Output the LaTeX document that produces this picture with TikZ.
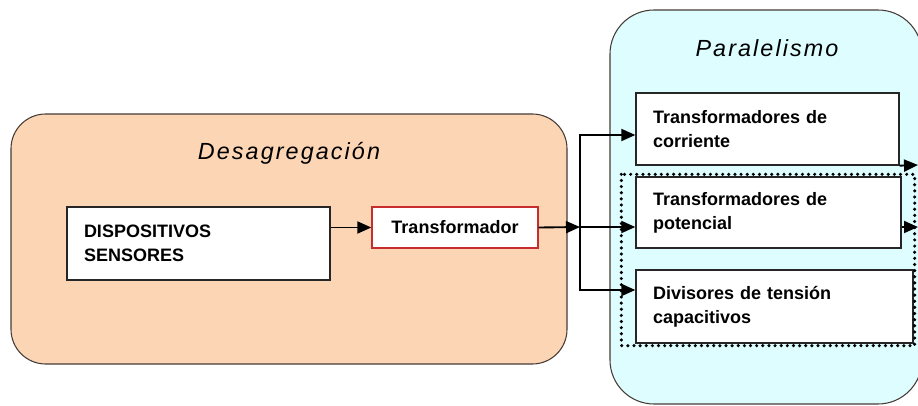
\documentclass[tikz,border=0pt]{standalone}
\usepackage{fontspec}
\setmainfont{Liberation Sans}
\usetikzlibrary{arrows.meta}
\definecolor{peach}{RGB}{252,213,180}
\definecolor{paleaqua}{RGB}{221,253,255}
\definecolor{boxred}{RGB}{200,45,45}
\definecolor{edgegray}{RGB}{70,60,55}
\begin{document}
\begin{tikzpicture}[x=0.75pt, y=-0.75pt,
    group/.style={draw=edgegray, line width=0.8pt, rounded corners=#1},
    grouptitle/.style={anchor=base, font=\itshape\fontsize{17.5}{20}\selectfont\addfontfeature{LetterSpace=9}},
    blockbox/.style={draw=black!85, line width=1pt, fill=white, align=left, inner xsep=12.75pt,
        font=\bfseries\fontsize{13.5}{18}\selectfont},
    arr/.style={line width=1.4pt, -{Triangle[length=10.5pt, width=9pt]}},
    dotbox/.style={line width=2.6pt, dash pattern=on 0pt off 4.6pt, line cap=round}]
    \useasboundingbox (0,0) rectangle (918,406);
    % the two groups
    \node[group=26pt, fill=peach, minimum width=417pt, minimum height=187.5pt] (desag) at (289,239) {};
    \node[group=33pt, fill=paleaqua, minimum width=234pt, minimum height=295.5pt] (paral) at (766,207) {};
    \node[grouptitle] (desagtitle) at (289,160) {Desagregación};
    \node[grouptitle] (paraltitle) at (767,57) {Paralelismo};
    % blocks
    \node[blockbox, minimum width=197.25pt, minimum height=54.75pt, text width=171.75pt] (disp) at (198.5,243.5) {DISPOSITIVOS\\SENSORES};
    \node[blockbox, draw=boxred, align=center, minimum width=124.5pt, minimum height=30.75pt] (trans) at (455,227.5) {Transformador};
    \node[blockbox, minimum width=197.25pt, minimum height=54pt, text width=171.75pt] (corr) at (767.5,129) {Transformadores de\\corriente};
    \node[blockbox, minimum width=198.75pt, minimum height=53.25pt, text width=173.25pt] (pot) at (768.5,212.5) {Transformadores de\\potencial};
    \node[blockbox, minimum width=207.75pt, minimum height=54.75pt, text width=182.25pt] (cap) at (774.5,306.5) {Divisores de tensión\\capacitivos};
    \draw[dotbox] ([xshift=-10.5pt, yshift=1.5pt]pot.north west) rectangle ([xshift=0.75pt, yshift=-1.5pt]cap.south east);
    % connectors
    \coordinate (split) at (580,227);
    \coordinate (up) at (580,135);
    \coordinate (down) at (580,290);
    \coordinate (out1) at (918,165);
    \coordinate (out2) at (918,227);
    \draw[arr] (disp.east |- trans.west) -- (trans.west);
    \draw[arr] (trans.east) -- (split);
    \draw[arr] (split) -- (pot.west |- split);
    \draw[arr] (split) -- (up) -- (corr.west |- up);
    \draw[arr] (split) -- (down) -- (cap.west |- down);
    \draw[arr] (corr.south east) -- (out1);
    \draw[arr] (pot.east |- split) -- (out2);
\end{tikzpicture}
\end{document}
